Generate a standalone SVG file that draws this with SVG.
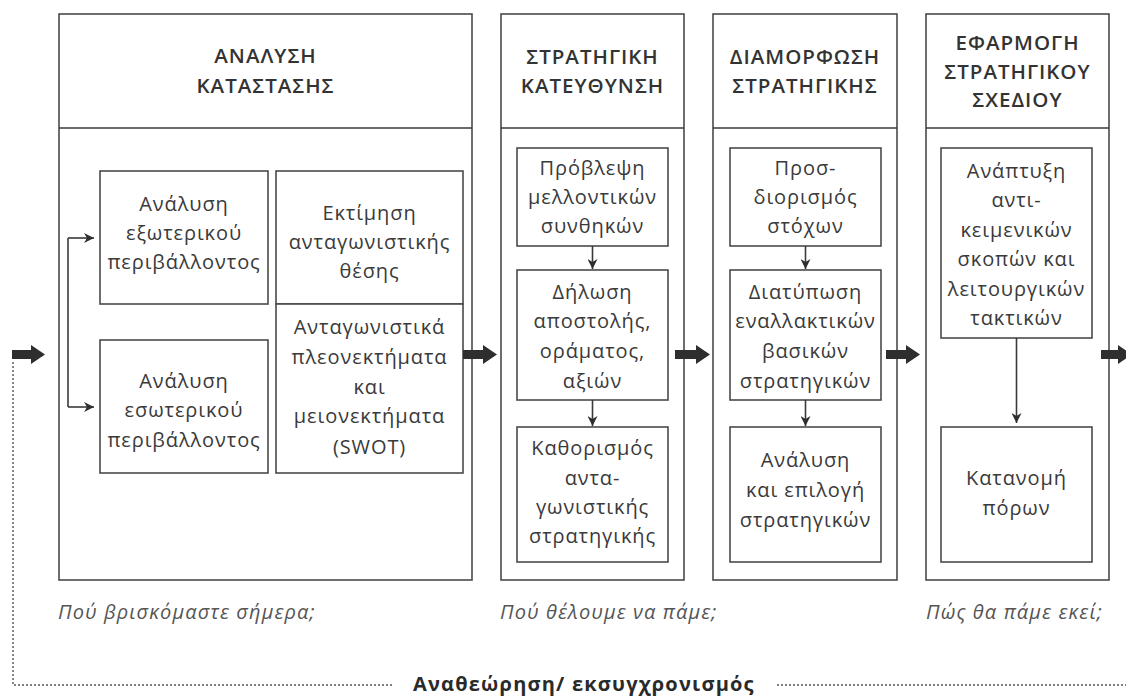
<svg xmlns="http://www.w3.org/2000/svg" width="1126" height="696" viewBox="0 0 1126 696">
<style>
.box{fill:#fff;stroke:#4a4a4a;stroke-width:1.6}
.ln{fill:none;stroke:#3a3a3a;stroke-width:1.6}
.hd{font-family:"Open Sans","Noto Sans",sans-serif;font-size:20.5px;font-weight:600;fill:#333;text-anchor:middle;letter-spacing:1px}
.tx{font-family:"Open Sans","Noto Sans",sans-serif;font-size:20px;fill:#3a3a3a;text-anchor:middle;letter-spacing:0.9px}
.cap{font-family:"Open Sans","Noto Sans",sans-serif;font-size:20px;font-style:italic;fill:#555;letter-spacing:1.1px}
.ft{font-family:"Open Sans","Noto Sans",sans-serif;font-size:20px;font-weight:700;fill:#2a2a2a;letter-spacing:1.2px}
.big{fill:#2e2e2e}
.dot{fill:none;stroke:#555;stroke-width:1.4;stroke-dasharray:2 2}
</style>
<defs>
<marker id="ah" viewBox="0 0 10 10" refX="10" refY="5" markerWidth="10" markerHeight="10" markerUnits="userSpaceOnUse" orient="auto">
<path d="M0,0 L10,5 L0,10 L3,5 Z" fill="#2e2e2e"/>
</marker>
</defs>
<rect width="1126" height="696" fill="#fff"/>

<g id="panel1">
<rect class="box" x="59" y="14" width="413" height="566"/>
<line class="ln" x1="59" y1="128" x2="472" y2="128"/>
<text class="hd" x="265.5" y="63">ΑΝΑΛΥΣΗ</text>
<text class="hd" x="265.5" y="93">ΚΑΤΑΣΤΑΣΗΣ</text>
</g>
<g id="ext">
<rect class="box" x="100" y="171" width="168" height="133"/>
<text class="tx" x="184" y="211">Ανάλυση</text>
<text class="tx" x="184" y="240">εξωτερικού</text>
<text class="tx" x="184" y="269">περιβάλλοντος</text>
</g>
<g id="int">
<rect class="box" x="100" y="340" width="168" height="133"/>
<text class="tx" x="184" y="388">Ανάλυση</text>
<text class="tx" x="184" y="417">εσωτερικού</text>
<text class="tx" x="184" y="447">περιβάλλοντος</text>
</g>
<g id="estim">
<rect class="box" x="276" y="171" width="187" height="133"/>
<text class="tx" x="369.5" y="220">Εκτίμηση</text>
<text class="tx" x="369.5" y="249">ανταγωνιστικής</text>
<text class="tx" x="369.5" y="278">θέσης</text>
</g>
<g id="swot">
<rect class="box" x="276" y="304" width="187" height="169"/>
<text class="tx" x="369.5" y="334">Ανταγωνιστικά</text>
<text class="tx" x="369.5" y="364">πλεονεκτήματα</text>
<text class="tx" x="369.5" y="394">και</text>
<text class="tx" x="369.5" y="423">μειονεκτήματα</text>
<text class="tx" x="369.5" y="454">(SWOT)</text>
</g>

<g id="panel2">
<rect class="box" x="501" y="14" width="183" height="566"/>
<line class="ln" x1="501" y1="128" x2="684" y2="128"/>
<text class="hd" x="592.5" y="64">ΣΤΡΑΤΗΓΙΚΗ</text>
<text class="hd" x="592.5" y="93">ΚΑΤΕΥΘΥΝΣΗ</text>
</g>
<g id="p2b1">
<rect class="box" x="517" y="148" width="151" height="98"/>
<text class="tx" x="592.5" y="175">Πρόβλεψη</text>
<text class="tx" x="592.5" y="204">μελλοντικών</text>
<text class="tx" x="592.5" y="233">συνθηκών</text>
</g>
<g id="p2b2">
<rect class="box" x="517" y="270" width="151" height="130"/>
<text class="tx" x="592.5" y="299">Δήλωση</text>
<text class="tx" x="592.5" y="328">αποστολής,</text>
<text class="tx" x="592.5" y="358">οράματος,</text>
<text class="tx" x="592.5" y="388">αξιών</text>
</g>
<g id="p2b3">
<rect class="box" x="517" y="427" width="151" height="135"/>
<text class="tx" x="592.5" y="455">Καθορισμός</text>
<text class="tx" x="592.5" y="485">αντα-</text>
<text class="tx" x="592.5" y="514">γωνιστικής</text>
<text class="tx" x="592.5" y="543">στρατηγικής</text>
</g>

<g id="panel3">
<rect class="box" x="713" y="14" width="184" height="566"/>
<line class="ln" x1="713" y1="128" x2="897" y2="128"/>
<text class="hd" x="805" y="64">ΔΙΑΜΟΡΦΩΣΗ</text>
<text class="hd" x="805" y="93">ΣΤΡΑΤΗΓΙΚΗΣ</text>
</g>
<g id="p3b1">
<rect class="box" x="730" y="148" width="151" height="98"/>
<text class="tx" x="805.5" y="175">Προσ-</text>
<text class="tx" x="805.5" y="204">διορισμός</text>
<text class="tx" x="805.5" y="233">στόχων</text>
</g>
<g id="p3b2">
<rect class="box" x="730" y="270" width="151" height="130"/>
<text class="tx" x="805.5" y="299">Διατύπωση</text>
<text class="tx" x="805.5" y="328">εναλλακτικών</text>
<text class="tx" x="805.5" y="358">βασικών</text>
<text class="tx" x="805.5" y="388">στρατηγικών</text>
</g>
<g id="p3b3">
<rect class="box" x="730" y="427" width="151" height="135"/>
<text class="tx" x="805.5" y="467">Ανάλυση</text>
<text class="tx" x="805.5" y="497">και επιλογή</text>
<text class="tx" x="805.5" y="527">στρατηγικών</text>
</g>

<g id="panel4">
<rect class="box" x="926" y="14" width="183" height="566"/>
<line class="ln" x1="926" y1="128" x2="1109" y2="128"/>
<text class="hd" x="1017.5" y="50">ΕΦΑΡΜΟΓΗ</text>
<text class="hd" x="1017.5" y="79">ΣΤΡΑΤΗΓΙΚΟΥ</text>
<text class="hd" x="1017.5" y="107">ΣΧΕΔΙΟΥ</text>
</g>
<g id="p4b1">
<rect class="box" x="941" y="148" width="151" height="190"/>
<text class="tx" x="1016.5" y="178">Ανάπτυξη</text>
<text class="tx" x="1016.5" y="207">αντι-</text>
<text class="tx" x="1016.5" y="237">κειμενικών</text>
<text class="tx" x="1016.5" y="266">σκοπών και</text>
<text class="tx" x="1016.5" y="296">λειτουργικών</text>
<text class="tx" x="1016.5" y="325">τακτικών</text>
</g>
<g id="p4b2">
<rect class="box" x="941" y="427" width="151" height="135"/>
<text class="tx" x="1016.5" y="485">Κατανομή</text>
<text class="tx" x="1016.5" y="515">πόρων</text>
</g>

<g id="connectors">
<polygon class="big" points="12,350 31,350 31,345 45,354.5 31,364 31,359 12,359"/>
<polygon class="big" points="463,350 483,350 483,345 497,354.5 483,364 483,359 463,359"/>
<polygon class="big" points="675,350 696,350 696,345 710,354.5 696,364 696,359 675,359"/>
<polygon class="big" points="886,350 906,350 906,345 920,354.5 906,364 906,359 886,359"/>
<polygon class="big" points="1101,350 1118,350 1118,345 1132,354.5 1118,364 1118,359 1101,359"/>
<line class="ln" x1="68" y1="238" x2="68" y2="407"/>
<line class="ln" x1="68" y1="238" x2="94" y2="238" marker-end="url(#ah)"/>
<line class="ln" x1="68" y1="407" x2="94" y2="407" marker-end="url(#ah)"/>
<line class="ln" x1="592.5" y1="246" x2="592.5" y2="269" marker-end="url(#ah)"/>
<line class="ln" x1="592.5" y1="400" x2="592.5" y2="426" marker-end="url(#ah)"/>
<line class="ln" x1="805.5" y1="246" x2="805.5" y2="269" marker-end="url(#ah)"/>
<line class="ln" x1="805.5" y1="400" x2="805.5" y2="426" marker-end="url(#ah)"/>
<line class="ln" x1="1016.5" y1="338" x2="1016.5" y2="423" marker-end="url(#ah)"/>
<path class="dot" d="M13,362 V685 H393"/>
<line class="dot" x1="777" y1="685" x2="1126" y2="685"/>
</g>

<g id="captions">
<text class="cap" x="58" y="619">Πού βρισκόμαστε σήμερα;</text>
<text class="cap" x="500" y="619">Πού θέλουμε να πάμε;</text>
<text class="cap" x="926" y="619">Πώς θα πάμε εκεί;</text>
<text class="ft" x="413" y="691">Αναθεώρηση/ εκσυγχρονισμός</text>
</g>
</svg>
